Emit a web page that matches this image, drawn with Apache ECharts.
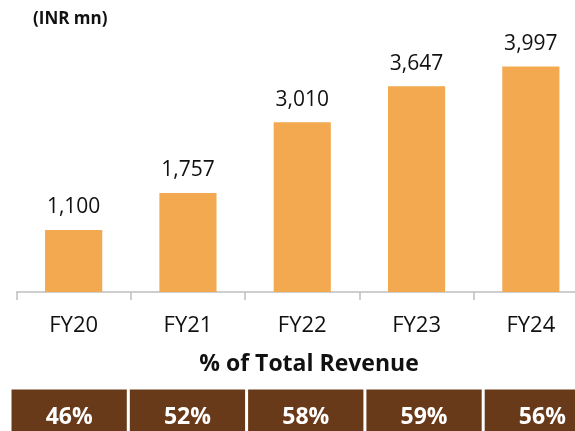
<!DOCTYPE html>
<html>
<head>
<meta charset="utf-8">
<script src="https://cdn.jsdelivr.net/npm/echarts@6/dist/echarts.min.js"></script>
<style>
  html, body { margin: 0; padding: 0; background: #fff; }
  #main { width: 575px; height: 431px; }
</style>
</head>
<body>
<div id="main"></div>
<script>
var categories = ['FY20', 'FY21', 'FY22', 'FY23', 'FY24']
var revenue = [1100, 1757, 3010, 3647, 3997]
var sharePct = [46, 52, 58, 59, 56]

var font = '"Open Sans", "Noto Sans", sans-serif'
var chart = echarts.init(document.getElementById('main'))

chart.setOption({
  animation: false,
  title: [
    {
      text: '(INR mn)',
      left: 28, top: 6,
      textStyle: { fontFamily: font, fontSize: 17, fontWeight: 'bold', color: '#111' }
    },
    {
      text: '% of Total Revenue',
      left: 304, top: 348, textAlign: 'center',
      textStyle: { fontFamily: font, fontSize: 23, fontWeight: 'bold', color: '#111' }
    }
  ],
  grid: [
    { left: 16.5, right: -13, top: 10, bottom: 139, outerBoundsMode: 'none', containLabel: false },
    { left: 10, right: -26.5, top: 388, bottom: -20, outerBoundsMode: 'none', containLabel: false }
  ],
  xAxis: [
    {
      type: 'category',
      gridIndex: 0,
      data: categories,
      axisLine: { show: true, lineStyle: { color: '#bfbfbf', width: 1.5 } },
      axisTick: { show: true, alignWithLabel: false, inside: false, length: 8, lineStyle: { color: '#bfbfbf', width: 1.5 } },
      axisLabel: { fontFamily: font, fontSize: 22, color: '#111', margin: 23 }
    },
    {
      type: 'category',
      gridIndex: 1,
      data: categories,
      show: false
    }
  ],
  yAxis: [
    { type: 'value', gridIndex: 0, min: 0, max: 5000, show: false },
    { type: 'value', gridIndex: 1, min: 0, max: 1, show: false }
  ],
  series: [
    {
      type: 'bar',
      xAxisIndex: 0,
      yAxisIndex: 0,
      data: revenue,
      barWidth: '50%',
      itemStyle: { color: '#f2a94f' },
      label: {
        show: true,
        position: 'top',
        distance: 12,
        fontFamily: font,
        fontSize: 21,
        color: '#111',
        formatter: function (p) { return p.value.toLocaleString('en-US') }
      }
    },
    {
      type: 'bar',
      xAxisIndex: 1,
      yAxisIndex: 1,
      data: sharePct.map(function () { return 1 }),
      barWidth: '100%',
      itemStyle: { color: '#693a19', borderColor: '#ffffff', borderWidth: 1.5 },
      label: {
        show: true,
        position: 'insideTop',
        distance: 18,
        fontFamily: font,
        fontSize: 23,
        fontWeight: 'bold',
        color: '#fff',
        formatter: function (p) { return sharePct[p.dataIndex] + '%' }
      }
    }
  ]
})
</script>
</body>
</html>
